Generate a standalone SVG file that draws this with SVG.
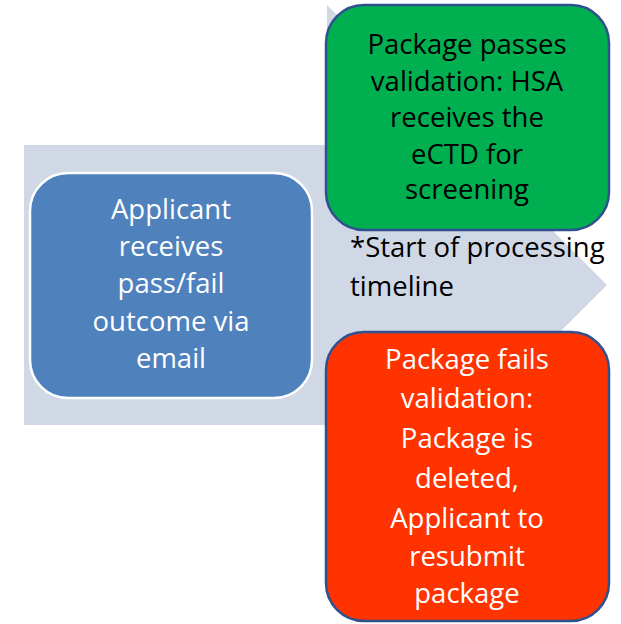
<svg xmlns="http://www.w3.org/2000/svg" width="621" height="624" viewBox="0 0 621 624">
<style>
text{font-family:"Open Sans","Liberation Sans",sans-serif;font-size:27.5px;text-anchor:middle}
.w{fill:#ffffff}
.k{fill:#000000}
.note{text-anchor:start;font-size:27.5px}
</style>
<rect width="621" height="624" fill="#ffffff"/>
<g id="background-arrow">
<path d="M24,145 H327 V5 L607,285 L327,565 V425 H24 Z" fill="#d0d7e5"/>
</g>
<g id="connectors"></g>
<g id="applicant">
<rect x="30" y="173" width="282" height="225" rx="38" fill="#4f81bd" stroke="#ffffff" stroke-width="2.5"/>
<text class="w"><tspan x="171" y="219">Applicant</tspan><tspan x="171" y="256">receives</tspan><tspan x="171" y="293">pass/fail</tspan><tspan x="171" y="331">outcome via</tspan><tspan x="171" y="368">email</tspan></text>
</g>
<g id="pass">
<rect x="326" y="5" width="283" height="225" rx="38" fill="#00b050" stroke="#2f528f" stroke-width="2.5"/>
<text class="k"><tspan x="467" y="54">Package passes</tspan><tspan x="467" y="91">validation: HSA</tspan><tspan x="467" y="127">receives the</tspan><tspan x="467" y="164">eCTD for</tspan><tspan x="467" y="199">screening</tspan></text>
</g>
<g id="note">
<text class="k note"><tspan x="350" y="257">*Start of processing</tspan><tspan x="350" y="296">timeline</tspan></text>
</g>
<g id="fail">
<rect x="326" y="332" width="283" height="289" rx="38" fill="#ff3300" stroke="#2f528f" stroke-width="2.5"/>
<text class="w"><tspan x="467" y="369">Package fails</tspan><tspan x="467" y="408">validation:</tspan><tspan x="467" y="448">Package is</tspan><tspan x="467" y="488">deleted,</tspan><tspan x="467" y="528">Applicant to</tspan><tspan x="467" y="566">resubmit</tspan><tspan x="467" y="603">package</tspan></text>
</g>
</svg>
